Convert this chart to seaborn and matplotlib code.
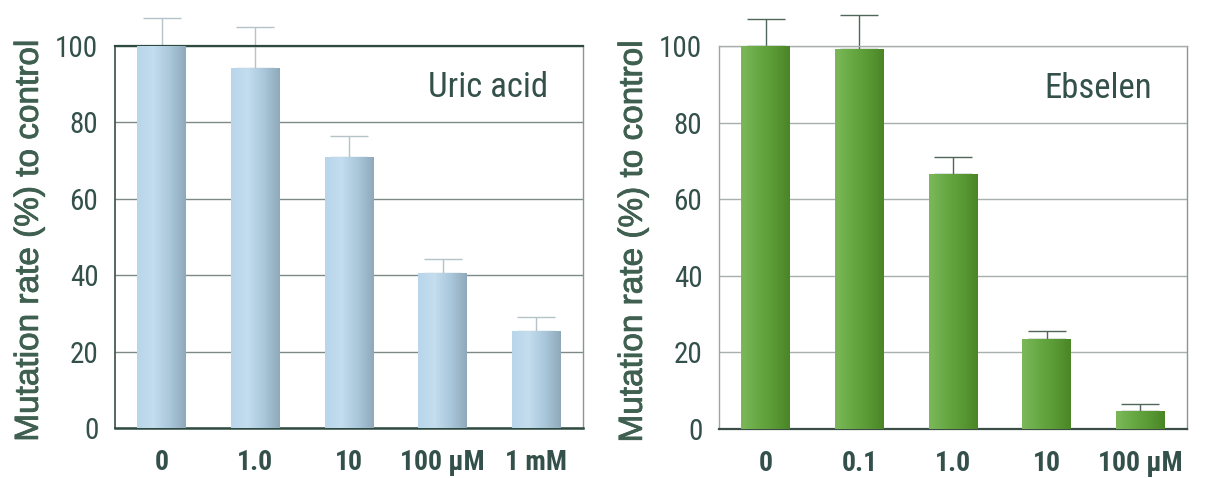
import numpy as np
import pandas as pd
import matplotlib
matplotlib.use("Agg")
import matplotlib.pyplot as plt
import matplotlib.font_manager as fm
import matplotlib.patheffects as pe
from matplotlib.colors import LinearSegmentedColormap
import seaborn as sns

# Uric acid panel
uric_labels = ["0", "1.0", "10", "100 µM", "1 mM"]
uric_rate = [100.0, 94.1, 70.9, 40.5, 25.4]
uric_err = [7.3, 10.7, 5.5, 3.7, 3.7]

# Ebselen panel
ebs_labels = ["0", "0.1", "1.0", "10", "100 µM"]
ebs_rate = [100.0, 99.1, 66.7, 23.4, 4.6]
ebs_err = [7.1, 9.0, 4.4, 2.1, 1.9]

y_ticks = [0, 20, 40, 60, 80, 100]

sns.set_theme(style="white")
names = {f.name for f in fm.fontManager.ttflist}
narrow = "Liberation Sans"
for cand in ["Roboto Condensed", "Liberation Sans Narrow", "Open Sans Condensed"]:
    if cand in names:
        narrow = cand
        break
plt.rcParams["font.family"] = [narrow, "DejaVu Sans"]
label_prop = fm.FontProperties(family=["Liberation Sans", "DejaVu Sans"], size=24)

text_col = "#33504a"
label_col = "#3f6050"

fig = plt.figure(figsize=(12.07, 4.78), dpi=100)
ax_l = fig.add_axes([0.0953, 0.1046, 0.3877, 0.8002])
ax_r = fig.add_axes([0.5957, 0.1025, 0.3877, 0.8013])


def gradient_bars(ax, cmap):
    grad = np.linspace(0, 1, 256).reshape(1, -1)
    for p in ax.patches:
        x0, y0 = p.get_x(), p.get_y()
        w, h = p.get_width(), p.get_height()
        im = ax.imshow(grad, cmap=cmap, aspect="auto", extent=[x0, x0 + w, y0, y0 + h],
                       zorder=p.get_zorder() + 0.1, interpolation="bicubic")
        im.set_clip_path(p)


def panel(ax, labels, rate, err, cmap, err_col, grid_col, spine_cols, title):
    df = pd.DataFrame({"conc": labels, "rate": rate})
    sns.barplot(data=df, x="conc", y="rate", ax=ax, width=0.52, color="#aaaaaa",
                edgecolor="none", linewidth=0, zorder=3, errorbar=None)
    gradient_bars(ax, cmap)
    xs = np.arange(len(labels))
    ax.errorbar(xs, rate, yerr=[np.zeros(len(err)), err], fmt="none", ecolor=err_col,
                elinewidth=1.0, capsize=14, capthick=1.0, zorder=2, clip_on=False)
    ax.set_xlim(-0.5, len(labels) - 0.5)
    ax.set_ylim(0, 100)
    ax.set_yticks(y_ticks)
    ax.set_yticklabels([str(t) for t in y_ticks], fontsize=21, color=text_col)
    ax.set_xticks(xs)
    ax.set_xticklabels(labels, fontsize=20, color=text_col, fontweight="bold")
    ax.set_xticks(np.arange(-0.5, len(labels)), minor=True)
    ax.tick_params(axis="x", which="major", length=0, pad=15)
    ax.tick_params(axis="x", which="minor", length=6, width=0.8, color="#c8c8c8", direction="out")
    ax.tick_params(axis="y", which="major", length=11, width=0.8, color="#888888",
                   direction="out", pad=1)
    ax.yaxis.grid(True, color=grid_col, linewidth=1.0)
    ax.set_axisbelow(True)
    for side, c in spine_cols.items():
        ax.spines[side].set_visible(True)
        ax.spines[side].set_color(c[0])
        ax.spines[side].set_linewidth(c[1])
    ax.set_xlabel("")
    ylab = ax.set_ylabel("Mutation rate (%) to control", color=label_col,
                         fontproperties=label_prop)
    ylab.set_path_effects([pe.withStroke(linewidth=0.6, foreground=label_col)])
    ax.yaxis.set_label_coords(-0.150, 0.49)
    ax.text(0.925, 0.89, title, transform=ax.transAxes, ha="right", va="center",
            fontsize=25, color=text_col)


blue = LinearSegmentedColormap.from_list("blue", ["#b8d5ea", "#c4ddef", "#aac7db", "#8ea9b9"])
green = LinearSegmentedColormap.from_list("green", ["#7cb85a", "#68aa45", "#5a9a35", "#4a8526"])

panel(ax_l, uric_labels, uric_rate, uric_err, blue, "#b5c3c8", "#7d8a86",
      {"top": ("#2e4a40", 1.6), "left": ("#3a4d46", 1.2), "bottom": ("#2e4a40", 1.8),
       "right": ("#8a9692", 1.0)}, "Uric acid")
panel(ax_r, ebs_labels, ebs_rate, ebs_err, green, "#50665a", "#a8b0ac",
      {"top": ("#a8b0ac", 1.0), "left": ("#9aa5a0", 1.0), "bottom": ("#3a4d46", 1.6),
       "right": ("#8a9692", 1.0)}, "Ebselen")

fig.savefig("out.png", dpi=100)
